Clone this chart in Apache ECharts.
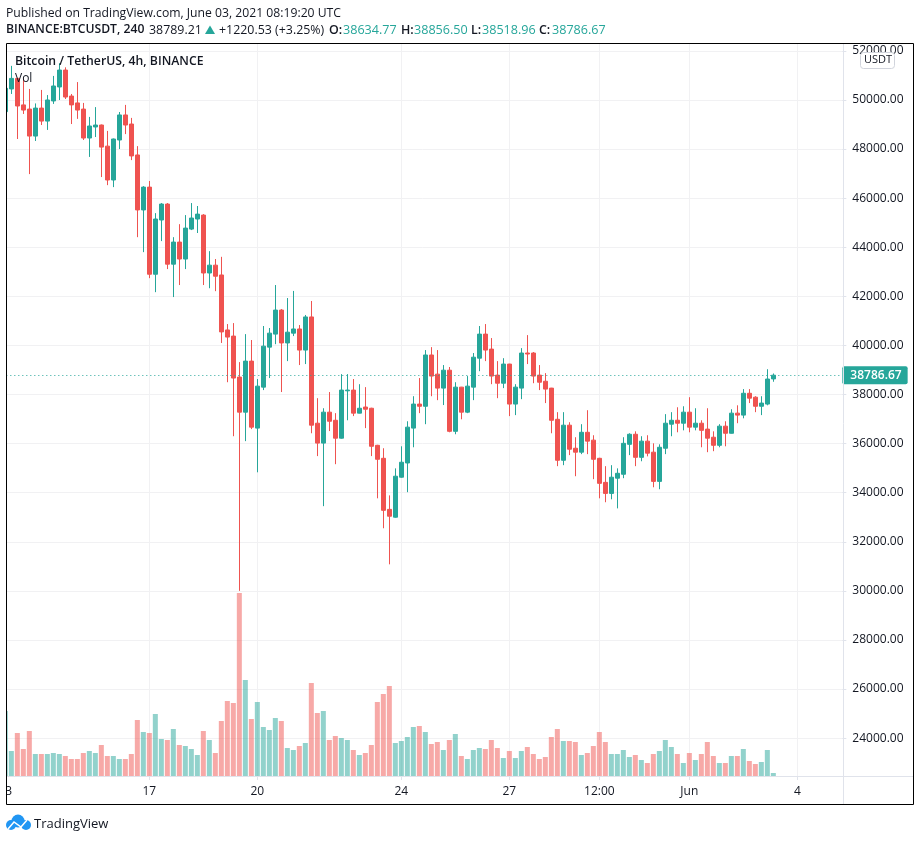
<!DOCTYPE html>
<html>
<head>
<meta charset="utf-8">
<style>html,body{margin:0;padding:0;background:#fff}#c{width:920px;height:841px}</style>
<script src="https://cdn.jsdelivr.net/npm/echarts@6/dist/echarts.min.js"></script>
</head>
<body>
<div id="c"></div>
<script>
const opens = [49524,50450,50880,49800,49630,48530,49670,49140,49960,50530,51220,50160,49880,49630,48450,48900,48980,48120,46740,48370,49390,49020,47760,45520,46450,42900,45110,45760,43310,44210,43520,44740,45150,45310,42950,43270,42870,40630,40380,38710,37280,39360,36630,38300,39930,40460,41440,40100,40500,40670,39810,41160,36830,36020,37280,36950,36220,38150,38180,37240,37490,37440,35930,35400,33320,33000,34630,35210,36630,37610,37520,39610,38830,38260,38990,36500,38300,37280,38300,39480,40460,39850,38790,38460,39240,37610,38260,39690,39690,38790,38540,38260,36990,35320,36750,35810,35650,36460,36140,35400,34420,33970,34590,34750,35970,36380,35440,36100,35650,34460,35810,36790,36950,36830,37280,36670,36830,36590,36260,35930,36710,36420,37240,37160,38050,37890,37520,37610,38634.77];
const highs = [50600,51390,50900,50880,50450,49860,50410,50200,50980,51500,51330,50245,50730,49880,49310,49710,49000,48740,48430,49510,49800,49270,48120,46490,46700,45390,45800,45800,44410,44940,45310,45800,45680,45350,43840,43520,43610,40870,40910,39320,40460,40220,38630,40790,40710,42460,41480,41930,42220,40830,41240,41810,37850,37440,38100,37240,38830,38830,38630,38420,38300,37460,35950,35810,33890,34990,35890,36910,37930,38670,39810,39930,39810,39200,39120,38500,38310,38750,39690,40790,40870,40300,39360,39480,39250,38420,39890,40420,39730,39200,38870,38270,37280,37280,36870,36260,36790,37360,36340,35420,35080,35120,34990,36260,36420,36500,36300,36340,36010,35970,37200,37280,37480,37520,37890,37440,36950,37440,36500,36790,36910,37400,37560,38220,38220,37930,37930,39030,38856.5];
const lows = [49400,50245,48410,49430,46980,48330,48980,48780,49840,50000,50040,49020,49230,48370,47680,48490,46860,46530,46450,48000,48610,47550,44410,43800,42740,42170,44250,43110,41970,42460,43110,44700,44580,42460,42330,42210,40100,38500,36300,30000,36100,36590,34830,38180,38670,40050,38100,39360,40380,39200,39240,36420,35490,33450,36510,35160,36200,36950,37120,37230,36630,35490,33770,32550,31080,32980,34610,34020,35850,37240,36790,37930,37770,37570,36460,36380,36990,37240,37770,38950,39360,38420,37850,38260,37120,37160,37810,39240,38460,38180,37650,36420,35080,35120,35530,34670,35570,35570,34550,33770,33610,33730,33360,34590,35530,35080,35280,35480,34220,34140,35570,36300,36460,36540,36460,36540,35850,35650,35690,35850,35890,36410,36830,37030,37650,37280,37160,37560,38518.96];
const closes = [50476,50880,49755,49590,48530,49670,49140,50000,50570,51220,50120,49800,49590,48450,48940,48980,48080,46740,48410,49390,48980,47720,45520,46450,42900,45150,45760,43310,44210,43520,44780,45190,45350,42950,43270,42820,40550,40340,38670,37280,39360,36670,38340,39970,40500,41440,40100,40540,40670,39810,41160,36750,36020,37280,36910,36220,38180,38180,37240,37440,37400,35890,35360,33280,33040,34670,35240,36670,37610,37520,39610,38750,38260,38990,36500,38300,37280,38340,39520,40460,39810,38750,38460,39240,37610,38300,39690,39650,38750,38500,38220,36950,35320,36750,35770,35650,36460,36100,35360,34380,33970,34630,34790,36010,36380,35440,36100,35610,34460,35850,36830,36950,36830,37280,36670,36830,36540,36220,35930,36710,36420,37240,37160,38050,37850,37520,37650,38630,38786.67];
const volumes = [65,25,43,27,45,22,22,22,23,22,20,17,17,23,25,23,31,20,20,17,17,22,56,44,43,62,37,36,47,31,30,27,21,45,36,23,55,75,73,183,96,57,74,49,46,58,55,28,26,30,33,93,63,65,36,40,38,36,26,21,23,31,74,82,90,33,35,39,49,50,44,32,34,26,36,42,20,17,26,28,27,36,28,18,25,18,25,29,22,17,19,39,47,35,35,34,21,23,30,44,34,22,22,26,19,21,16,13,22,25,36,29,22,13,23,16,22,34,20,13,13,20,20,27,15,12,14,26,3];
const categories = Array.from({length: 140}, (_, i) => 'c' + i);
const timeTickIndex = [0, 24, 42, 66, 84, 99, 114, 132];
const timeTickLabels = ['13', '17', '20', '24', '27', '12:00', 'Jun', '4'];
const lastPrice = 38786.67;
const FONT = '"Open Sans", "Noto Sans", sans-serif';
const UP = '#26a69a', DOWN = '#ef5350', GRIDC = '#f1f1f3', AXC = '#e0e3eb', TXT = '#131722';

const candleData = opens.map((o, i) => [o, closes[i], lows[i], highs[i]]);
const volData = volumes.map((v, i) => ({
  value: v,
  itemStyle: {color: closes[i] >= opens[i] ? 'rgba(38,166,154,0.5)' : 'rgba(239,83,80,0.5)'}
}));
const txt = (x, y, text, font, fill) => ({type: 'text', z: 60, silent: true, x, y, style: {text, fill: fill || TXT, font: font + ' ' + FONT}});
const hiddenX = {axisLine: {show: false}, axisTick: {show: false}, axisLabel: {show: false}, splitLine: {show: false}};

const chart = echarts.init(document.getElementById('c'), null, {renderer: 'canvas'});
chart.setOption({
  animation: false,
  backgroundColor: '#fff',
  textStyle: {fontFamily: FONT},
  grid: [
    {left: 2.33, width: 840, top: 50.9, height: 687.2, containLabel: false, outerBoundsMode: 'none'},
    {left: 2.33, width: 840, top: 44, height: 732, containLabel: false, outerBoundsMode: 'none'},
    {left: 5.33, width: 834, top: 44, height: 732, containLabel: false, outerBoundsMode: 'none'}
  ],
  xAxis: [
    Object.assign({type: 'category', gridIndex: 0, data: categories, boundaryGap: true}, hiddenX),
    Object.assign({type: 'category', gridIndex: 1, data: categories, boundaryGap: true}, hiddenX),
    {type: 'value', gridIndex: 2, min: 0, max: 139,
     axisLine: {show: false},
     axisTick: {show: true, customValues: timeTickIndex, length: 4, lineStyle: {color: AXC}},
     splitLine: {show: true, lineStyle: {color: GRIDC, width: 1}},
     axisLabel: {show: true, customValues: timeTickIndex, margin: 10, fontSize: 12, color: TXT, fontFamily: FONT,
       hideOverlap: false,
       formatter: (v) => timeTickLabels[timeTickIndex.indexOf(v)] || ''}}
  ],
  yAxis: [
    {type: 'value', gridIndex: 0, position: 'right', min: 24000, max: 52000, interval: 2000, scale: true,
     axisLine: {show: false},
     axisTick: {show: true, length: 4, lineStyle: {color: AXC}},
     splitLine: {show: true, lineStyle: {color: GRIDC, width: 1}},
     axisLabel: {margin: 10, fontSize: 12, color: TXT, fontFamily: FONT, padding: [3, 0, 0, 0], formatter: v => v.toFixed(2),
       showMinLabel: true, showMaxLabel: true}},
    {type: 'value', gridIndex: 1, min: 0, max: 732, show: false, splitLine: {show: false}},
    {type: 'value', gridIndex: 2, min: 0, max: 732, show: false, splitLine: {show: false}}
  ],
  series: [
    {type: 'bar', name: 'Vol', xAxisIndex: 1, yAxisIndex: 1, data: volData, barWidth: 5, z: 1},
    {type: 'candlestick', name: 'BTCUSDT', xAxisIndex: 0, yAxisIndex: 0, data: candleData, barWidth: 4, z: 3,
     itemStyle: {color: UP, color0: DOWN, borderColor: UP, borderColor0: DOWN, borderWidth: 1},
     markLine: {
       silent: true, symbol: 'none', animation: false,
       lineStyle: {color: UP, type: [1, 3], width: 1},
       label: {show: true, position: 'end', distance: 0, formatter: lastPrice.toFixed(2),
         color: '#fff', backgroundColor: UP, padding: [3, 6, 3, 8], borderRadius: 2,
         fontSize: 12, fontWeight: 600, fontFamily: FONT},
       data: [{yAxis: lastPrice}]
     }}
  ],
  graphic: {elements: [
    {type: 'rect', z: 50, silent: true, shape: {x: 0, y: 40, width: 6, height: 770}, style: {fill: '#fff'}},
    {type: 'line', z: 51, silent: true, shape: {x1: 843.5, y1: 43, x2: 843.5, y2: 804}, style: {stroke: AXC, lineWidth: 1}},
    {type: 'line', z: 51, silent: true, shape: {x1: 7, y1: 776.5, x2: 913, y2: 776.5}, style: {stroke: AXC, lineWidth: 1}},
    {type: 'rect', z: 52, silent: true, shape: {x: 6.5, y: 43.5, width: 907, height: 761}, style: {fill: 'none', stroke: '#000', lineWidth: 1}},
    txt(6, 8, 'Published on TradingView.com, June 03, 2021 08:19:20 UTC', '12.2px'),
    txt(6, 24, 'BINANCE:BTCUSDT, 240', '600 12.2px'),
    txt(149, 24, '38789.21', '12.4px'),
    {type: 'polygon', z: 60, silent: true, shape: {points: [[205, 34], [210, 25.5], [215, 34]]}, style: {fill: UP}},
    txt(219, 24, '+1220.53 (+3.25%)', '12.4px'),
    txt(329, 24, 'O:', '600 12.4px'),
    txt(343, 24, '38634.77', '12.6px', UP),
    txt(401, 24, 'H:', '600 12.4px'),
    txt(414, 24, '38856.50', '12.6px', UP),
    txt(471, 24, 'L:', '600 12.4px'),
    txt(482, 24, '38518.96', '12.6px', UP),
    txt(539, 24, 'C:', '600 12.4px'),
    txt(552, 24, '38786.67', '12.6px', UP),
    txt(15, 55.5, 'Bitcoin / TetherUS, 4h, BINANCE', '600 12.25px'),
    txt(15, 73, 'Vol', '12px'),
    {type: 'rect', z: 60, silent: true, shape: {x: 860.5, y: 52.5, width: 34, height: 16, r: 3}, style: {fill: '#fff', stroke: '#d1d4dc', lineWidth: 1}},
    {type: 'text', z: 61, silent: true, x: 864, y: 54, style: {text: 'USDT', fill: TXT, font: '11px ' + FONT}},
    {type: 'circle', z: 60, silent: true, shape: {cx: 11, cy: 825, r: 5}, style: {fill: '#2196f3'}},
    {type: 'circle', z: 60, silent: true, shape: {cx: 18, cy: 821, r: 6.5}, style: {fill: '#2196f3'}},
    {type: 'circle', z: 60, silent: true, shape: {cx: 26, cy: 825, r: 5}, style: {fill: '#2196f3'}},
    {type: 'polyline', z: 61, silent: true, shape: {points: [[8, 829], [14, 822], [21, 827], [27, 820]]}, style: {stroke: '#fff', fill: 'none', lineWidth: 1.5}},
    txt(34, 817.5, 'TradingView', '13px')
  ]}
});
</script>
</body>
</html>
